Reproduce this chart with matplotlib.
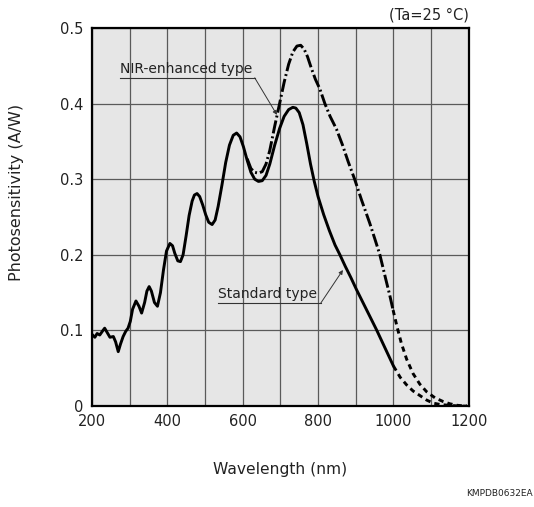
#!/usr/bin/env python3
"""Spectral response of the photodiode: standard vs NIR-enhanced type."""

import matplotlib

matplotlib.use("Agg")
import matplotlib.pyplot as plt

# standard type, measured part (solid)
std_wl = [200, 208, 214, 221, 228, 234, 241, 248, 257, 263, 270, 276, 283, 290,
          296, 302, 308, 317, 325, 332, 340, 346, 352, 358, 366, 374, 382, 390,
          398, 407, 414, 420, 428, 435, 442, 450, 458, 466, 472, 479, 486, 494,
          502, 510, 519, 527, 535, 545, 555, 565, 575, 584, 593, 602, 612, 622,
          632, 642, 652, 662, 672, 685, 698, 710, 722, 733, 741, 750, 760, 770,
          780, 790, 800, 815, 830, 845, 858, 872, 887, 902, 920, 938, 955, 970,
          985, 1000]
std_resp = [0.095, 0.091, 0.096, 0.094, 0.099, 0.103, 0.097, 0.091, 0.092, 0.085,
            0.072, 0.082, 0.092, 0.099, 0.103, 0.112, 0.128, 0.139, 0.132, 0.123,
            0.137, 0.152, 0.158, 0.152, 0.137, 0.132, 0.150, 0.180, 0.205, 0.215,
            0.212, 0.202, 0.192, 0.191, 0.200, 0.225, 0.252, 0.271, 0.279, 0.281,
            0.277, 0.266, 0.253, 0.243, 0.240, 0.246, 0.264, 0.292, 0.322, 0.345,
            0.358, 0.361, 0.356, 0.343, 0.325, 0.309, 0.300, 0.297, 0.298, 0.305,
            0.320, 0.345, 0.367, 0.383, 0.392, 0.395, 0.394, 0.388, 0.372, 0.347,
            0.320, 0.297, 0.277, 0.253, 0.232, 0.213, 0.200, 0.185, 0.170, 0.154,
            0.136, 0.118, 0.101, 0.085, 0.069, 0.053]

# standard type, tail beyond 1000 nm (dashed)
std_tail_wl = [1000, 1018, 1035, 1052, 1070, 1088, 1105, 1125, 1150, 1175, 1195]
std_tail_resp = [0.053, 0.038, 0.028, 0.020, 0.014, 0.008, 0.004, 0.002, 0.001,
                 0.0, 0.0]

# NIR-enhanced type, where it leaves the standard curve (dash-dot)
nir_wl = [612, 622, 632, 642, 652, 662, 672, 685, 698, 710, 722, 733, 744, 754,
          763, 772, 782, 793, 805, 818, 832, 849, 865, 880, 897, 915, 937, 950,
          964, 980, 990, 999]
nir_resp = [0.327, 0.314, 0.309, 0.308, 0.310, 0.320, 0.338, 0.370, 0.400, 0.428,
            0.452, 0.468, 0.476, 0.477, 0.472, 0.462, 0.447, 0.432, 0.419, 0.400,
            0.383, 0.366, 0.345, 0.323, 0.300, 0.273, 0.242, 0.222, 0.200, 0.167,
            0.147, 0.127]

nir_tail_wl = [999, 1010, 1021, 1035, 1052, 1070, 1088, 1110, 1132, 1150, 1170,
               1195]
nir_tail_resp = [0.127, 0.104, 0.083, 0.062, 0.043, 0.029, 0.019, 0.011, 0.006,
                 0.003, 0.001, 0.0]

x_grid = list(range(200, 1201, 100))
x_tick_labels = ["200", "", "400", "", "600", "", "800", "", "1000", "", "1200"]
y_ticks = [0, 0.1, 0.2, 0.3, 0.4, 0.5]
y_tick_labels = ["0", "0.1", "0.2", "0.3", "0.4", "0.5"]

plt.rcParams["font.family"] = ["DejaVu Sans"]
plt.rcParams["lines.scale_dashes"] = False
text_color = "#222222"
line_width = 2.1

fig = plt.figure(figsize=(5.34, 5.07), dpi=100)
ax = fig.add_axes([0.172, 0.199, 0.706, 0.746])
ax.set_facecolor("#e6e6e6")

ax.plot(std_wl, std_resp, color="black", linewidth=line_width,
        solid_capstyle="round")
ax.plot(std_tail_wl, std_tail_resp, color="black", linewidth=line_width,
        dashes=(3.8, 3.0))
ax.plot(nir_wl, nir_resp, color="black", linewidth=line_width,
        dashes=(9.5, 2.2, 1.4, 2.2))
ax.plot(nir_tail_wl, nir_tail_resp, color="black", linewidth=line_width,
        dashes=(3.8, 3.0))

ax.set_xlim(200, 1200)
ax.set_ylim(0, 0.5)
ax.set_xticks(x_grid)
ax.set_xticklabels(x_tick_labels)
ax.set_yticks(y_ticks)
ax.set_yticklabels(y_tick_labels)
ax.grid(True, color="#5a5a5a", linewidth=0.9)
ax.set_axisbelow(True)
ax.tick_params(length=0, labelsize=10.5, labelcolor=text_color)
ax.tick_params(axis="y", pad=6)
ax.tick_params(axis="x", pad=6)
for spine in ax.spines.values():
    spine.set_linewidth(1.6)
    spine.set_color("black")

ax.set_xlabel("Wavelength (nm)", fontsize=11.2, color=text_color)
ax.set_ylabel("Photosensitivity (A/W)", fontsize=11.5, color=text_color)
ax.xaxis.set_label_coords(0.5, -0.148)
ax.yaxis.set_label_coords(-0.180, 0.566)

# curve labels with underline and leader
ax.text(274, 0.437, "NIR-enhanced type", fontsize=10, color=text_color,
        ha="left", va="bottom")
ax.plot([274, 632], [0.434, 0.434], color="#333333", linewidth=0.8)
ax.annotate("", xy=(691, 0.385), xytext=(632, 0.434),
            arrowprops=dict(arrowstyle="-|>", color="#333333", lw=0.7,
                            mutation_scale=6, shrinkA=0, shrinkB=0))

ax.text(534, 0.139, "Standard type", fontsize=10, color=text_color,
        ha="left", va="bottom")
ax.plot([534, 807], [0.136, 0.136], color="#333333", linewidth=0.8)
ax.annotate("", xy=(866, 0.180), xytext=(807, 0.136),
            arrowprops=dict(arrowstyle="-|>", color="#333333", lw=0.7,
                            mutation_scale=6, shrinkA=0, shrinkB=0))

fig.text(469 / 534, 1 - 15 / 507, "(Ta=25 \u00b0C)", fontsize=10.5,
         color=text_color, ha="right", va="center")
fig.text(533 / 534, 1 - 493 / 507, "KMPDB0632EA", fontsize=6.5,
         color=text_color, ha="right", va="center")

fig.savefig("out.png", dpi=100)
